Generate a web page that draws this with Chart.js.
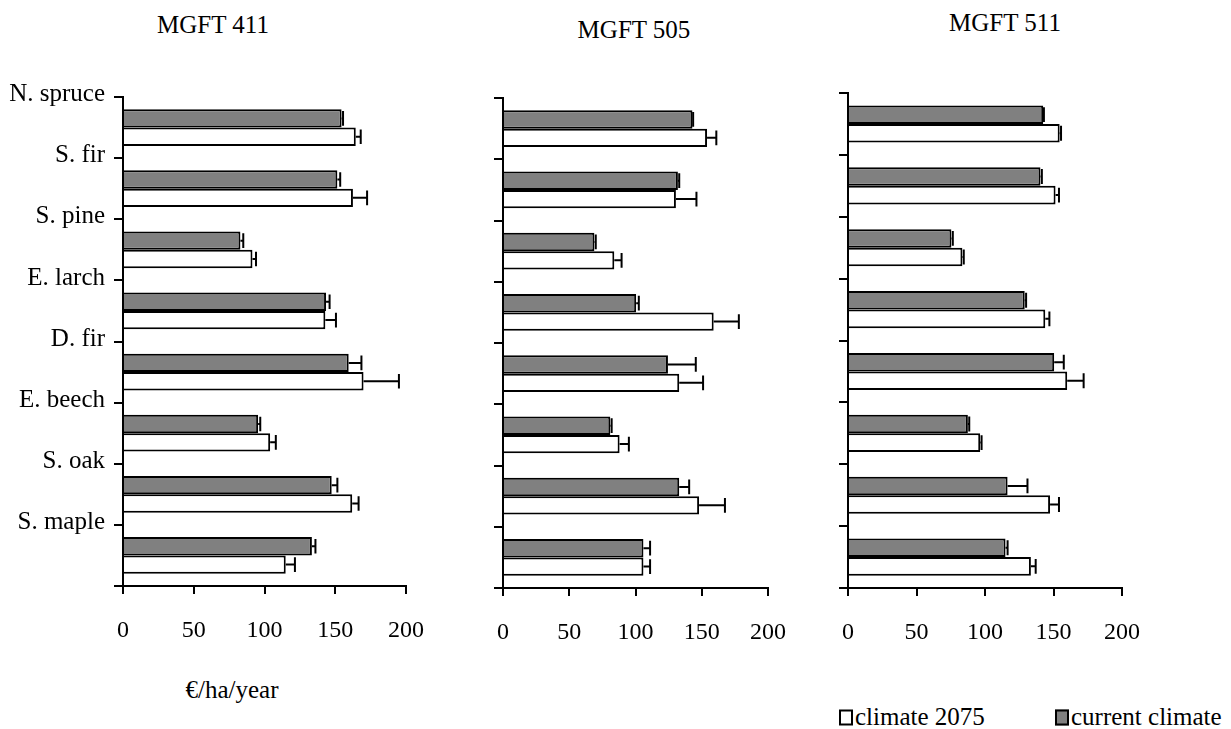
<!DOCTYPE html>
<html>
<head>
<meta charset="utf-8">
<script src="https://cdn.jsdelivr.net/npm/chart.js@4.4.1/dist/chart.umd.min.js"></script>
<style>
  body { margin: 0; background: #fff; width: 1231px; height: 729px; position: relative; overflow: hidden;
         font-family: 'Liberation Serif', serif; color: #000; }
  canvas { position: absolute; }
  .txt { position: absolute; font-size: 25px; white-space: nowrap; transform: translate(-50%, -50%); line-height: 1; }
  .leg { position: absolute; font-size: 25px; white-space: nowrap; line-height: 1; transform: translateY(-50%); }
  .box { display: inline-block; width: 10px; height: 12px; border: 2px solid #000; margin-right: 2px; vertical-align: -1px; }
</style>
</head>
<body>
<div class="txt" style="left:213px; top:24px;">MGFT 411</div>
<div class="txt" style="left:634px; top:29px;">MGFT 505</div>
<div class="txt" style="left:1005px; top:22px;">MGFT 511</div>
<div class="txt" style="left:232px; top:689px;">€/ha/year</div>
<div class="leg" style="left:839px; top:716px;"><span class="box" style="background:#fff"></span>climate 2075</div>
<div class="leg" style="left:1055px; top:716px;"><span class="box" style="background:#808080"></span>current climate</div>

<canvas id="p411" width="440" height="580" style="left:0px; top:80px;"></canvas>
<canvas id="p505" width="360" height="580" style="left:440px; top:80px;"></canvas>
<canvas id="p511" width="360" height="580" style="left:800px; top:80px;"></canvas>

<script>
// especies (de arriba a abajo)
var species = ['N. spruce', 'S. fir', 'S. pine', 'E. larch', 'D. fir', 'E. beech', 'S. oak', 'S. maple'];
var xTicks = [0, 50, 100, 150, 200];

// MGFT 411
var current411 = [154.5, 151.5, 83, 143.5, 159.5, 95.5, 147.5, 133.5];
var currentErr411 = [1, 2, 2, 2.5, 9, 1.5, 4, 2.5];
var future411 = [164.5, 162.5, 91.5, 143, 170, 104, 162, 115];
var futureErr411 = [3.5, 10, 2.5, 7.5, 25, 4, 4.5, 6.5];

// MGFT 505
var current505 = [143, 132, 69, 100.5, 124.5, 81, 133, 106];
var currentErr505 = [0.5, 1, 1, 2, 21, 1, 7.5, 5];
var future505 = [154, 130.5, 84, 159, 133, 88, 148, 106];
var futureErr505 = [7, 15.5, 5.5, 19, 18, 7, 19.5, 5];

// MGFT 511
var current511 = [142.5, 140.5, 75.5, 129, 150.5, 87.5, 116.5, 115];
var currentErr511 = [0.5, 1, 1, 1, 7, 1, 14.5, 1.5];
var future511 = [154.5, 151.5, 83.5, 144, 160, 96.5, 147.5, 133.5];
var futureErr511 = [1, 2.5, 1, 3, 12, 1, 6.5, 3.5];

var fuenteX = { family: "'Liberation Serif', serif", size: 24 };
var fuenteY = { family: "'Liberation Serif', serif", size: 25 };

// barras de error (solo hacia la derecha)
var errorBars = {
    id: 'errorBars',
    afterDatasetsDraw: function(chart) {
        var ctx = chart.ctx;
        var xs = chart.scales.x;
        chart.data.datasets.forEach(function(ds, di) {
            var meta = chart.getDatasetMeta(di);
            meta.data.forEach(function(bar, i) {
                var x0 = xs.getPixelForValue(ds.data[i]);
                var x1 = xs.getPixelForValue(ds.data[i] + ds.errors[i]);
                var h = bar.height * 0.8;
                ctx.save();
                ctx.strokeStyle = '#000';
                ctx.lineWidth = 2;
                ctx.beginPath();
                ctx.moveTo(x0, bar.y);
                ctx.lineTo(x1, bar.y);
                ctx.moveTo(x1, bar.y - h / 2);
                ctx.lineTo(x1, bar.y + h / 2);
                ctx.stroke();
                ctx.restore();
            });
        });
    }
};

function panel(id, cur, curErr, fut, futErr, o) {
    var ctx = document.getElementById(id).getContext('2d');
    return new Chart(ctx, {
        type: 'bar',
        data: {
            labels: species,
            datasets: [{
                label: 'current climate',
                data: cur,
                errors: curErr,
                backgroundColor: '#808080',
                borderColor: '#000',
                borderWidth: 2,
                borderSkipped: 'start'
            }, {
                label: 'climate 2075',
                data: fut,
                errors: futErr,
                backgroundColor: '#ffffff',
                borderColor: '#000',
                borderWidth: 2,
                borderSkipped: 'start'
            }]
        },
        options: {
            indexAxis: 'y',
            responsive: false,
            animation: false,
            categoryPercentage: 0.6,
            barPercentage: 1.0,
            layout: { padding: { top: o.top, right: o.right, left: 0, bottom: 0 } },
            plugins: { legend: { display: false }, tooltip: { enabled: false } },
            scales: {
                x: {
                    type: 'linear',
                    min: 0,
                    max: 200,
                    afterBuildTicks: function(scale) {
                        scale.ticks = xTicks.map(function(v) { return { value: v }; });
                    },
                    afterFit: function(scale) {
                        scale.height = o.xh;
                        scale.paddingLeft = 0;
                        scale.paddingRight = 0;
                    },
                    grid: { drawOnChartArea: false, drawTicks: true, tickLength: 8, color: '#000', lineWidth: 2 },
                    border: { display: true, color: '#000', width: 2 },
                    ticks: { color: '#000', font: fuenteX, padding: 22, maxRotation: 0 }
                },
                y: {
                    type: 'category',
                    offset: true,
                    afterFit: function(scale) {
                        scale.width = o.yw;
                        scale.paddingTop = 0;
                        scale.paddingBottom = 0;
                    },
                    grid: { offset: true, drawOnChartArea: false, drawTicks: true, tickLength: 9, color: '#000', lineWidth: 2 },
                    border: { display: true, color: '#000', width: 2 },
                    ticks: { display: o.labels, color: '#000', font: fuenteY, padding: 9, labelOffset: -33 }
                }
            }
        },
        plugins: [errorBars]
    });
}

panel('p411', current411, currentErr411, future411, futureErr411, { top: 17, right: 34, xh: 74, yw: 123, labels: true });
panel('p505', current505, currentErr505, future505, futureErr505, { top: 18, right: 32, xh: 72, yw: 63, labels: false });
panel('p511', current511, currentErr511, future511, futureErr511, { top: 13, right: 38, xh: 72, yw: 48, labels: false });
</script>
</body>
</html>
